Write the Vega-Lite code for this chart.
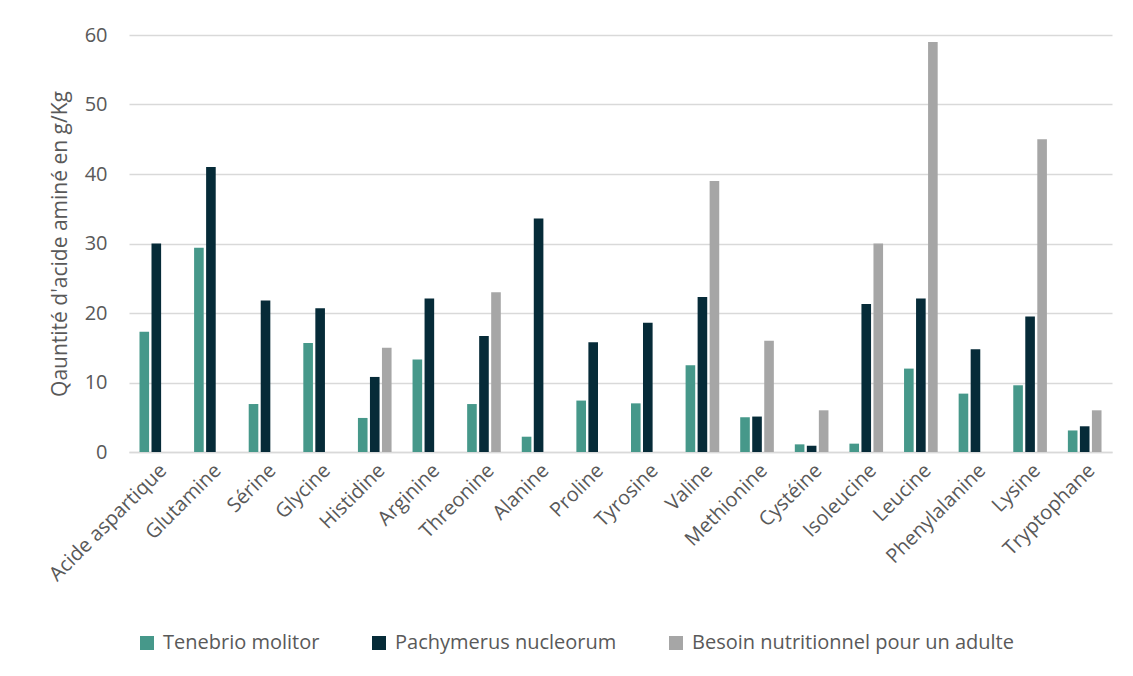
{
  "$schema": "https://vega.github.io/schema/vega-lite/v6.json",
  "width": 983,
  "height": 417,
  "autosize": "none",
  "padding": {"left": 129, "top": 35, "right": 21, "bottom": 224},
  "background": "white",
  "config": {
    "view": {"stroke": null},
    "font": "Open Sans"
  },
  "data": {
    "values": [
      {"acide": "Acide aspartique", "serie": "Tenebrio molitor", "valeur": 17.3},
      {"acide": "Acide aspartique", "serie": "Pachymerus nucleorum", "valeur": 30.0},
      {"acide": "Glutamine", "serie": "Tenebrio molitor", "valeur": 29.4},
      {"acide": "Glutamine", "serie": "Pachymerus nucleorum", "valeur": 41.0},
      {"acide": "Sérine", "serie": "Tenebrio molitor", "valeur": 6.9},
      {"acide": "Sérine", "serie": "Pachymerus nucleorum", "valeur": 21.8},
      {"acide": "Glycine", "serie": "Tenebrio molitor", "valeur": 15.7},
      {"acide": "Glycine", "serie": "Pachymerus nucleorum", "valeur": 20.7},
      {"acide": "Histidine", "serie": "Tenebrio molitor", "valeur": 4.9},
      {"acide": "Histidine", "serie": "Pachymerus nucleorum", "valeur": 10.8},
      {"acide": "Histidine", "serie": "Besoin nutritionnel pour un adulte", "valeur": 15},
      {"acide": "Arginine", "serie": "Tenebrio molitor", "valeur": 13.3},
      {"acide": "Arginine", "serie": "Pachymerus nucleorum", "valeur": 22.1},
      {"acide": "Threonine", "serie": "Tenebrio molitor", "valeur": 6.9},
      {"acide": "Threonine", "serie": "Pachymerus nucleorum", "valeur": 16.7},
      {"acide": "Threonine", "serie": "Besoin nutritionnel pour un adulte", "valeur": 23},
      {"acide": "Alanine", "serie": "Tenebrio molitor", "valeur": 2.2},
      {"acide": "Alanine", "serie": "Pachymerus nucleorum", "valeur": 33.6},
      {"acide": "Proline", "serie": "Tenebrio molitor", "valeur": 7.4},
      {"acide": "Proline", "serie": "Pachymerus nucleorum", "valeur": 15.8},
      {"acide": "Tyrosine", "serie": "Tenebrio molitor", "valeur": 7.0},
      {"acide": "Tyrosine", "serie": "Pachymerus nucleorum", "valeur": 18.6},
      {"acide": "Valine", "serie": "Tenebrio molitor", "valeur": 12.5},
      {"acide": "Valine", "serie": "Pachymerus nucleorum", "valeur": 22.3},
      {"acide": "Valine", "serie": "Besoin nutritionnel pour un adulte", "valeur": 39},
      {"acide": "Methionine", "serie": "Tenebrio molitor", "valeur": 5.0},
      {"acide": "Methionine", "serie": "Pachymerus nucleorum", "valeur": 5.1},
      {"acide": "Methionine", "serie": "Besoin nutritionnel pour un adulte", "valeur": 16},
      {"acide": "Cystéine", "serie": "Tenebrio molitor", "valeur": 1.1},
      {"acide": "Cystéine", "serie": "Pachymerus nucleorum", "valeur": 0.9},
      {"acide": "Cystéine", "serie": "Besoin nutritionnel pour un adulte", "valeur": 6},
      {"acide": "Isoleucine", "serie": "Tenebrio molitor", "valeur": 1.2},
      {"acide": "Isoleucine", "serie": "Pachymerus nucleorum", "valeur": 21.3},
      {"acide": "Isoleucine", "serie": "Besoin nutritionnel pour un adulte", "valeur": 30},
      {"acide": "Leucine", "serie": "Tenebrio molitor", "valeur": 12.0},
      {"acide": "Leucine", "serie": "Pachymerus nucleorum", "valeur": 22.1},
      {"acide": "Leucine", "serie": "Besoin nutritionnel pour un adulte", "valeur": 59},
      {"acide": "Phenylalanine", "serie": "Tenebrio molitor", "valeur": 8.4},
      {"acide": "Phenylalanine", "serie": "Pachymerus nucleorum", "valeur": 14.8},
      {"acide": "Lysine", "serie": "Tenebrio molitor", "valeur": 9.6},
      {"acide": "Lysine", "serie": "Pachymerus nucleorum", "valeur": 19.5},
      {"acide": "Lysine", "serie": "Besoin nutritionnel pour un adulte", "valeur": 45},
      {"acide": "Tryptophane", "serie": "Tenebrio molitor", "valeur": 3.1},
      {"acide": "Tryptophane", "serie": "Pachymerus nucleorum", "valeur": 3.7},
      {"acide": "Tryptophane", "serie": "Besoin nutritionnel pour un adulte", "valeur": 6}
    ]
  },
  "mark": {"type": "bar"},
  "encoding": {
    "x": {
      "field": "acide",
      "type": "nominal",
      "sort": null,
      "scale": {"paddingInner": 0.34, "paddingOuter": 0.17},
      "axis": {
        "title": null,
        "labelAngle": -45,
        "labelFontSize": 20,
        "labelColor": "#595959",
        "labelPadding": 8,
        "labelLimit": 0,
        "ticks": false,
        "domainColor": "#d9d9d9",
        "domainWidth": 1.5
      }
    },
    "xOffset": {
      "field": "serie",
      "type": "nominal",
      "scale": {
        "domain": ["Tenebrio molitor", "Pachymerus nucleorum", "Besoin nutritionnel pour un adulte"],
        "paddingInner": 0.2,
        "paddingOuter": 0.1
      }
    },
    "y": {
      "field": "valeur",
      "type": "quantitative",
      "scale": {"domain": [0, 60]},
      "axis": {
        "title": "Qauntité d'acide aminé en g/Kg",
        "titleFontSize": 21,
        "titleFontWeight": "normal",
        "titleColor": "#595959",
        "titlePadding": 14,
        "values": [0, 10, 20, 30, 40, 50, 60],
        "labelFontSize": 20,
        "labelColor": "#595959",
        "labelPadding": 22,
        "ticks": false,
        "domain": false,
        "gridColor": "#d9d9d9",
        "gridWidth": 1.5
      }
    },
    "color": {
      "field": "serie",
      "type": "nominal",
      "scale": {
        "domain": ["Tenebrio molitor", "Pachymerus nucleorum", "Besoin nutritionnel pour un adulte"],
        "range": ["#46988a", "#062b38", "#a6a6a6"]
      },
      "legend": {
        "title": null,
        "orient": "none",
        "legendX": 8,
        "legendY": 598,
        "direction": "horizontal",
        "symbolType": "square",
        "symbolSize": 196,
        "symbolStrokeWidth": 0,
        "labelFontSize": 20,
        "labelLimit": 0,
        "labelColor": "#595959",
        "labelOffset": 6,
        "columnPadding": 49
      }
    }
  }
}
